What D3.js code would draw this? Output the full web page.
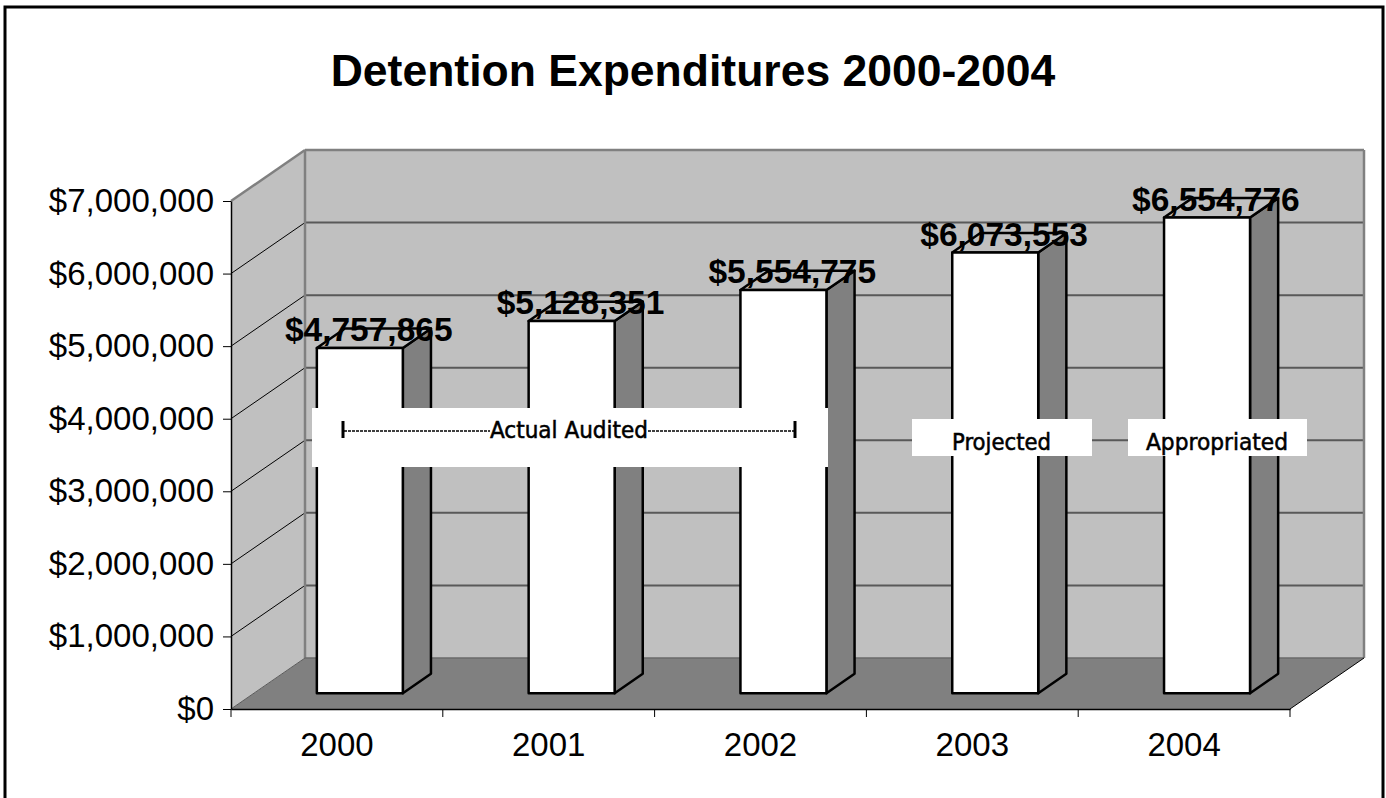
<!DOCTYPE html>
<html>
<head>
<meta charset="utf-8">
<script src="https://cdn.jsdelivr.net/npm/d3@7"></script>
<style>
  html, body { margin: 0; padding: 0; background: #fff; }
  svg { display: block; }
</style>
</head>
<body>
<svg id="chart" width="1386" height="798"></svg>
<script>
// Detention expenditures by year
const years = ["2000", "2001", "2002", "2003", "2004"];
const expenditures = [4757865, 5128351, 5554775, 6073553, 6554776];
const yTicks = [0, 1000000, 2000000, 3000000, 4000000, 5000000, 6000000, 7000000];
const title = "Detention Expenditures 2000-2004";
const notes = [
  { text: "Actual Audited", from: "2000", to: "2002" },
  { text: "Projected", from: "2003", to: "2003" },
  { text: "Appropriated", from: "2004", to: "2004" }
];

const svg = d3.select("#chart");
const FONT = "'Liberation Sans', Arial, sans-serif";

// plot area on the front plane and the 3D depth offset
const plotLeft = 231, plotRight = 1290, plotBottom = 709, plotTop = 201;
const DX = 74, DY = 51;          // full depth of the box
const z0 = 0.31, z1 = 0.69;      // bar depth range (fraction of full depth)

const x = d3.scaleBand().domain(years).range([plotLeft, plotRight])
  .paddingInner(0.594).paddingOuter(0.297);
const y = d3.scaleLinear().domain([0, 7000000]).range([plotBottom, plotTop]);

// project a point (screen x on front plane, value, depth fraction)
const P = (px, v, z) => [px + z * DX, y(v) - z * DY];
const poly = pts => "M" + pts.map(p => p.join(",")).join("L") + "Z";

// outer frame
svg.append("rect").attr("x", 5).attr("y", 7).attr("width", 1378).attr("height", 820)
  .attr("fill", "#fff").attr("stroke", "#000").attr("stroke-width", 3);

// title
svg.append("text").attr("x", 693).attr("y", 86).attr("text-anchor", "middle")
  .attr("font-family", FONT).attr("font-weight", "bold").attr("font-size", 44.5)
  .text(title);

const vMax = 7000000;
// floor
svg.append("path")
  .attr("d", poly([P(plotLeft, 0, 0), P(plotLeft, 0, 1), P(plotRight, 0, 1), P(plotRight, 0, 0)]))
  .attr("fill", "#808080");
// side wall
svg.append("path")
  .attr("d", poly([P(plotLeft, 0, 0), P(plotLeft, vMax, 0), P(plotLeft, vMax, 1), P(plotLeft, 0, 1)]))
  .attr("fill", "#c0c0c0");
// back wall
svg.append("path")
  .attr("d", poly([P(plotLeft, 0, 1), P(plotLeft, vMax, 1), P(plotRight, vMax, 1), P(plotRight, 0, 1)]))
  .attr("fill", "#c0c0c0");

// gridlines: diagonal on the side wall, horizontal on the back wall
const grid = svg.append("g");
yTicks.filter(v => v > 0 && v < vMax).forEach(v => {
  const a = P(plotLeft, v, 0), b = P(plotLeft, v, 1), c = P(plotRight, v, 1);
  grid.append("line").attr("x1", a[0]).attr("y1", a[1]).attr("x2", b[0]).attr("y2", b[1])
    .attr("stroke", "#000").attr("stroke-width", 1);
  grid.append("line").attr("x1", b[0]).attr("y1", b[1]).attr("x2", c[0]).attr("y2", c[1])
    .attr("stroke", "#595959").attr("stroke-width", 2);
});

// wall edges
const edge = (p, q, col, w) => svg.append("line")
  .attr("x1", p[0]).attr("y1", p[1]).attr("x2", q[0]).attr("y2", q[1])
  .attr("stroke", col).attr("stroke-width", w);
edge(P(plotLeft, vMax, 0), P(plotLeft, vMax, 1), "#808080", 2.5);
edge(P(plotLeft, vMax, 1), P(plotRight, vMax, 1), "#808080", 2.5);
edge(P(plotRight, vMax, 1), P(plotRight, 0, 1), "#808080", 2.5);
edge(P(plotLeft, vMax, 1), P(plotLeft, 0, 1), "#808080", 2.5);
edge(P(plotLeft, 0, 1), P(plotRight, 0, 1), "#6a6a6a", 1.5);
edge(P(plotLeft, 0, 0), P(plotLeft, 0, 1), "#5a5a5a", 1);
edge(P(plotRight, 0, 0), P(plotRight, 0, 1), "#000", 1);

// bars
const data = years.map((yr, i) => ({ year: yr, value: expenditures[i] }));
const bars = svg.append("g").selectAll("g").data(data).join("g");
bars.each(function (d) {
  const g = d3.select(this);
  const x0 = x(d.year), x1 = x(d.year) + x.bandwidth();
  // right side face
  g.append("path")
    .attr("d", poly([P(x1, 0, z0), P(x1, d.value, z0), P(x1, d.value, z1), P(x1, 0, z1)]))
    .attr("fill", "#808080").attr("stroke", "#000").attr("stroke-width", 2.5)
    .attr("stroke-linejoin", "round");
  // top face
  g.append("path")
    .attr("d", poly([P(x0, d.value, z0), P(x0, d.value, z1), P(x1, d.value, z1), P(x1, d.value, z0)]))
    .attr("fill", "#c0c0c0").attr("stroke", "#000").attr("stroke-width", 2.5)
    .attr("stroke-linejoin", "round");
  // front face
  g.append("path")
    .attr("d", poly([P(x0, 0, z0), P(x0, d.value, z0), P(x1, d.value, z0), P(x1, 0, z0)]))
    .attr("fill", "#fff").attr("stroke", "#000").attr("stroke-width", 2.5)
    .attr("stroke-linejoin", "round");
});

// value labels
bars.append("text")
  .attr("x", d => P(x(d.year) + x.bandwidth() / 2, d.value, 0.43)[0])
  .attr("y", d => P(0, d.value, 0.5)[1] + 3)
  .attr("text-anchor", "middle")
  .attr("font-family", FONT).attr("font-weight", "bold").attr("font-size", 33.5)
  .text(d => d3.format("$,")(d.value));

// value axis on the front left edge
const yAxis = svg.append("g").attr("transform", `translate(${plotLeft},0)`)
  .call(d3.axisLeft(y).tickValues(yTicks).tickFormat(d3.format("$,"))
    .tickSize(8).tickSizeOuter(0).tickPadding(9));
yAxis.select(".domain").attr("stroke", "#000").attr("stroke-width", 1.5);
yAxis.selectAll(".tick line").attr("stroke", "#000").attr("stroke-width", 1);
yAxis.selectAll(".tick text").attr("font-family", FONT).attr("font-size", 33).attr("fill", "#000");

// category axis on the front bottom edge
const xAxis = svg.append("g").attr("transform", `translate(0,${plotBottom})`)
  .call(d3.axisBottom(x).tickSize(0).tickSizeOuter(0).tickPadding(24));
xAxis.select(".domain").attr("stroke", "#000").attr("stroke-width", 1.5);
xAxis.selectAll(".tick text").attr("font-family", FONT).attr("font-size", 33)
  .attr("fill", "#000").attr("dy", "0.71em");
// category boundary ticks
const step = x.step();
xAxis.selectAll(".bound").data(d3.range(years.length + 1)).join("line")
  .attr("class", "bound")
  .attr("x1", i => plotLeft + i * step).attr("x2", i => plotLeft + i * step)
  .attr("y1", 0).attr("y2", 8).attr("stroke", "#000").attr("stroke-width", 1);

// annotation boxes
const NOTE_FONT = "'DejaVu Sans Condensed', 'DejaVu Sans', sans-serif";
const ann = svg.append("g");
// Actual Audited spans several years with bracket marks
{
  const n = notes[0];
  const bx0 = 312, bx1 = 828, by0 = 408, by1 = 467;
  ann.append("rect").attr("x", bx0).attr("y", by0).attr("width", bx1 - bx0).attr("height", by1 - by0)
    .attr("fill", "#fff");
  const cy = 431;
  const t = ann.append("text").attr("x", 569).attr("y", 438).attr("text-anchor", "middle")
    .attr("font-family", NOTE_FONT).attr("font-size", 23).attr("fill", "#000")
    .attr("stroke", "#000").attr("stroke-width", 0.5).text(n.text);
  const tx0 = 490, tx1 = 648;
  t.attr("textLength", tx1 - tx0).attr("lengthAdjust", "spacingAndGlyphs");
  ann.append("line").attr("x1", 344).attr("x2", tx0).attr("y1", cy).attr("y2", cy)
    .attr("stroke", "#000").attr("stroke-width", 1.5).attr("stroke-dasharray", "3,1");
  ann.append("line").attr("x1", tx1).attr("x2", 795).attr("y1", cy).attr("y2", cy)
    .attr("stroke", "#000").attr("stroke-width", 1.5).attr("stroke-dasharray", "3,1");
  [343, 795].forEach(px => ann.append("line").attr("x1", px).attr("x2", px)
    .attr("y1", 421).attr("y2", 438).attr("stroke", "#000").attr("stroke-width", 3));
}
// single-year notes
[[notes[1], 912, 1092, 952, 1051], [notes[2], 1128, 1307, 1146, 1288]].forEach(([n, bx0, bx1, tx0, tx1]) => {
  ann.append("rect").attr("x", bx0).attr("y", 419).attr("width", bx1 - bx0).attr("height", 37)
    .attr("fill", "#fff");
  ann.append("text").attr("x", tx0).attr("y", 450)
    .attr("font-family", NOTE_FONT).attr("font-size", 23).attr("fill", "#000")
    .attr("stroke", "#000").attr("stroke-width", 0.5)
    .attr("textLength", tx1 - tx0).attr("lengthAdjust", "spacingAndGlyphs")
    .text(n.text);
});
</script>
</body>
</html>
